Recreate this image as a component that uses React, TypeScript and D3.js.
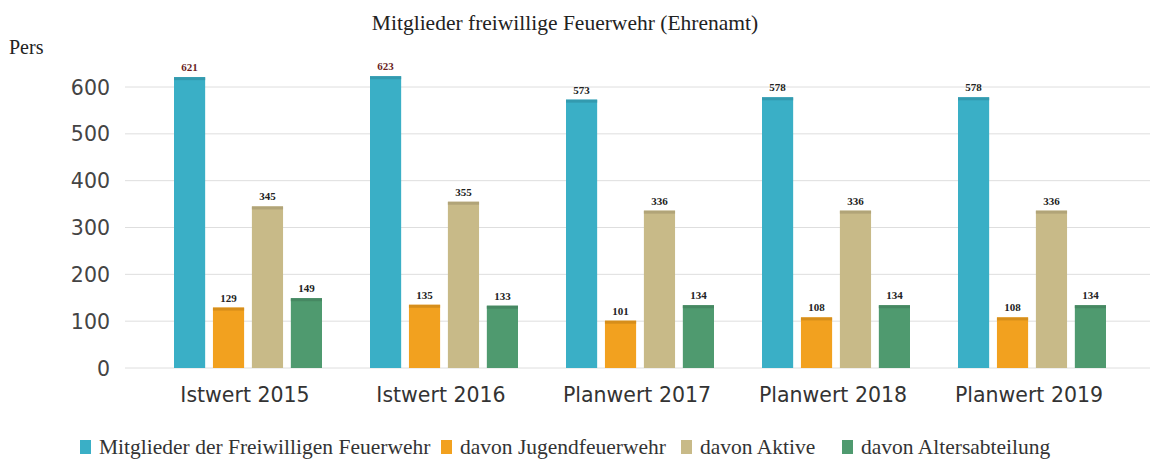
import React from "react";
import * as d3 from "d3";

const categories = ["Istwert 2015", "Istwert 2016", "Planwert 2017", "Planwert 2018", "Planwert 2019"];
const seriesNames = [
  "Mitglieder der Freiwilligen Feuerwehr",
  "davon Jugendfeuerwehr",
  "davon Aktive",
  "davon Altersabteilung",
];
const mitglieder = [621, 623, 573, 578, 578];
const jugend = [129, 135, 101, 108, 108];
const aktive = [345, 355, 336, 336, 336];
const alters = [149, 133, 134, 134, 134];
const yTicks = [0, 100, 200, 300, 400, 500, 600];
const colors = ["#3AAFC6", "#F2A11F", "#C8BA88", "#4F9A6F"];

const seriesValues = [mitglieder, jugend, aktive, alters];

export default function App() {
  const W = 1160;
  const H = 464;
  const x0 = d3.scaleBand<string>().domain(categories).range([147, 1127]).paddingInner(0).paddingOuter(0);
  const x1 = d3.scaleBand<string>().domain(seriesNames).range([27, 175]).paddingInner(0.2);
  const y = d3.scaleLinear().domain([0, 600]).range([368, 87]);

  const legendX = [80, 441, 681, 842];

  return (
    <svg width={W} height={H} style={{ position: "absolute", left: 0, top: 0, background: "#fff" }}>
      <text x={565} y={30} textAnchor="middle" fontFamily="Liberation Serif" fontSize={21.5} fill="#222">
        Mitglieder freiwillige Feuerwehr (Ehrenamt)
      </text>
      <text x={9} y={54} fontFamily="Liberation Serif" fontSize={20} fill="#222">Pers</text>
      {yTicks.map((t) => (
        <g key={t}>
          <line x1={125} x2={1150} y1={y(t)} y2={y(t)} stroke="#dedede" strokeWidth={1} />
          <text x={110} y={y(t) + 7.5} textAnchor="end" fontFamily="DejaVu Sans" fontSize={20.5} fill="#444">
            {t}
          </text>
        </g>
      ))}
      {categories.map((c, ci) => (
        <g key={c} transform={`translate(${x0(c)},0)`}>
          {seriesNames.map((s, si) => {
            const v = seriesValues[si][ci];
            const bx = x1(s)!;
            const bw = x1.bandwidth();
            return (
              <g key={s}>
                <rect x={bx} y={y(v)} width={bw} height={y(0) - y(v)} fill={colors[si]} />
                <rect x={bx} y={y(v)} width={bw} height={3} fill={d3.color(colors[si])!.darker(0.35).toString()} />
                <text
                  x={bx + bw / 2}
                  y={y(v) - 6}
                  textAnchor="middle"
                  fontFamily="Liberation Serif"
                  fontWeight="bold"
                  fontSize={11}
                  fill={si === 0 && ci < 2 ? "#6b1f1f" : "#222"}
                >
                  {v}
                </text>
              </g>
            );
          })}
          <text
            x={x0.bandwidth() / 2}
            y={402}
            textAnchor="middle"
            fontFamily="DejaVu Sans"
            fontSize={20.5}
            fill="#333"
          >
            {c}
          </text>
        </g>
      ))}
      {seriesNames.map((name, i) => (
        <g key={name}>
          <rect x={legendX[i]} y={440} width={11} height={14} fill={colors[i]} />
          <text x={legendX[i] + 19} y={454} fontFamily="Liberation Serif" fontSize={21.5} fill="#333">
            {name}
          </text>
        </g>
      ))}
    </svg>
  );
}
